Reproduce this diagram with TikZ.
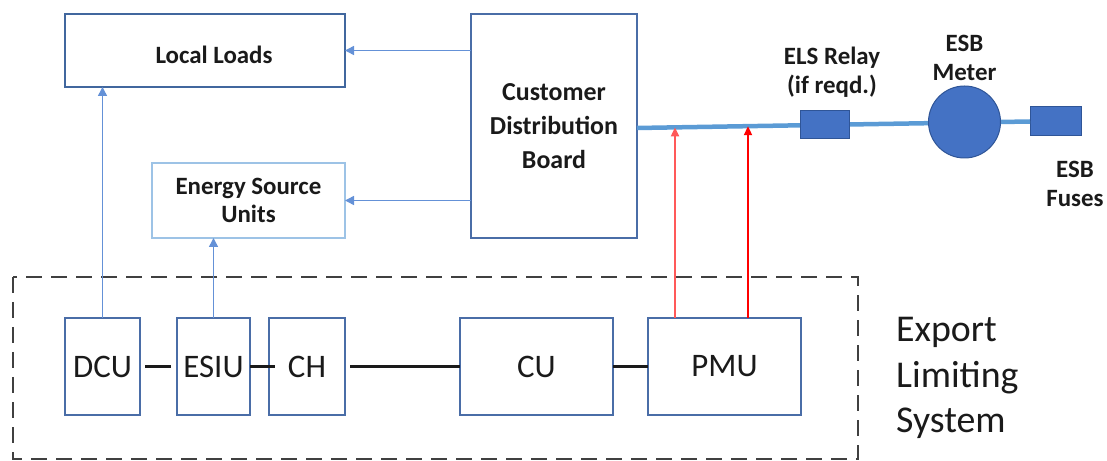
\documentclass[tikz,border=0pt]{standalone}
\usepackage{fontspec}
\setmainfont{Carlito}
\usetikzlibrary{arrows.meta}
\definecolor{boxblue}{RGB}{74,109,167}
\definecolor{llblue}{RGB}{65,103,158}
\definecolor{esublue}{RGB}{157,195,230}
\definecolor{arrowblue}{RGB}{100,145,215}
\definecolor{busblue}{RGB}{91,155,213}
\definecolor{fillblue}{RGB}{68,114,196}
\definecolor{edgeblue}{RGB}{47,85,151}
\definecolor{framegray}{RGB}{64,64,64}
\definecolor{txt}{RGB}{26,26,26}
\tikzset{
  box/.style={draw=boxblue, line width=1.6bp, inner sep=0pt, outer sep=0pt, text=txt, align=center},
  boldtxt/.style={font=\bfseries\fontsize{25}{28}\selectfont},
  unit/.style={box, minimum height=97bp, font=\fontsize{33}{36}\selectfont},
  blk/.style={fill=fillblue, draw=edgeblue, line width=1bp, inner sep=0pt, outer sep=0pt},
  feed/.style={draw=arrowblue, line width=1.5bp, -{Triangle[length=9bp,width=9bp]}},
  meas/.style={draw=red, line width=2bp, -{Triangle[length=9bp,width=8bp]}},
  link/.style={draw=txt, line width=3bp},
  lbl/.style={text=txt, align=center, inner sep=0pt, font=\bfseries\fontsize{25}{29}\selectfont}
}
\begin{document}
\begin{tikzpicture}[x=1bp,y=-1bp]
\useasboundingbox (0,0) rectangle (1107,461);
% upper boxes
\node[box, draw=llblue, line width=2.2bp, minimum width=280bp, minimum height=73bp, boldtxt] (ll) at (205,50.5) {\raisebox{-13.5bp}[0pt][0pt]{\hspace*{18bp}Local Loads}};
\node[box, draw=esublue, line width=1.5bp, minimum width=193bp, minimum height=75bp, boldtxt] (esu) at (248.5,200.5) {Energy Source\\Units};
\node[box, minimum width=166bp, minimum height=224bp, font=\bfseries\fontsize{26}{34}\selectfont] (cdb) at (554,126) {Customer\\Distribution\\Board};
% bus
\node[blk, minimum width=51bp, minimum height=29bp] (fuses) at (1055.5,121.5) {};
\draw[busblue, line width=4.5bp] ([yshift=-2bp]cdb.east) -- (fuses.west);
\node[blk, minimum width=49bp, minimum height=28bp] (relay) at (824.5,125) {};
\node[blk, circle, minimum size=72bp] (meter) at (964.5,122) {};
\coordinate (r1) at (675,127.4);
\coordinate (r2) at (748,126.2);
% labels
\node[lbl] (relaylbl) at (832,72.5) {ELS Relay\\(if reqd.)};
\node[lbl] (meterlbl) at (964.5,58) {ESB\\Meter};
\node[lbl] (fuselbl) at (1075,184) {ESB\\Fuses};
% export limiting system
\draw[framegray, line width=2.2bp, dash pattern=on 16bp off 9bp] (13,277) rectangle (858,459);
\node[unit, minimum width=75bp] (dcu) at (102.5,366.5) {DCU};
\node[unit, minimum width=73bp] (esiu) at (213.5,366.5) {ESIU};
\node[unit, minimum width=76bp] (ch) at (307,366.5) {CH};
\node[unit, minimum width=153bp] (cu) at (536.5,366.5) {CU};
\node[unit, minimum width=153bp] (pmu) at (724.5,366.5) {PMU};
\node[anchor=west, align=left, text=txt, inner sep=0pt, font=\fontsize{38}{46}\selectfont] (els) at (896,378) {Export\\Limiting\\System};
% connectors
\draw[link, shorten <=5bp, shorten >=6bp] (dcu.east) -- (esiu.west);
\draw[link] (esiu.east) -- ([xshift=6bp]ch.west);
\draw[link, shorten <=5bp] (ch.east) -- (cu.west);
\draw[link] (cu.east) -- (pmu.west);
\draw[feed] (cdb.west |- ll.east) -- (ll.east);
\draw[feed] (cdb.west |- esu.east) -- (esu.east);
\draw[feed] (dcu.north) -- (dcu.north |- ll.south);
\draw[feed] (esiu.north) -- (esiu.north |- esu.south);
\draw[meas, draw=red!65] (pmu.north -| r1) -- (r1);
\draw[meas] (pmu.north -| r2) -- (r2);
\end{tikzpicture}
\end{document}
